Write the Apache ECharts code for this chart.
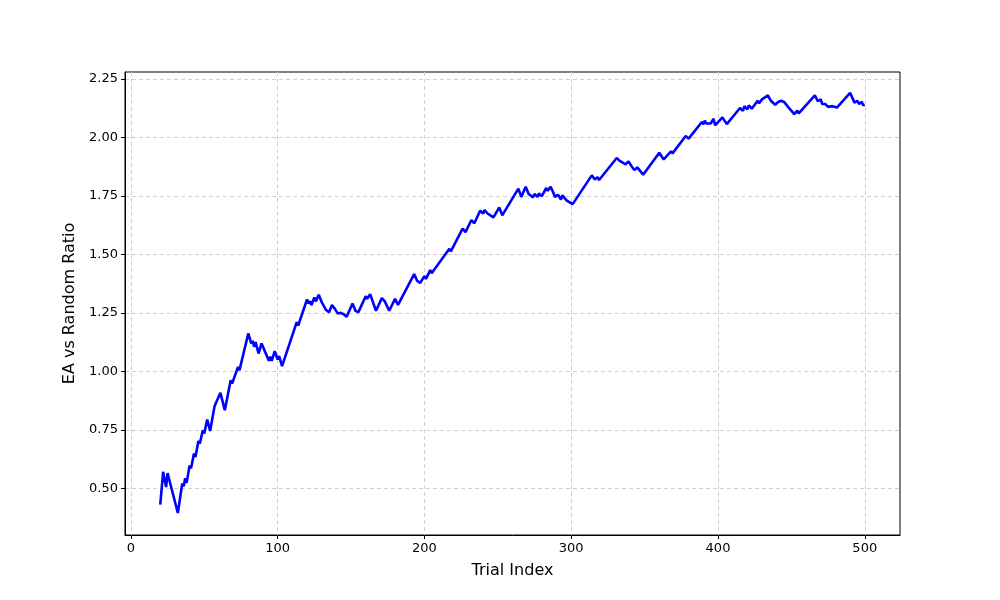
<!DOCTYPE html>
<html>
<head>
<meta charset="utf-8">
<script src="https://cdn.jsdelivr.net/npm/echarts@6/dist/echarts.min.js"></script>
<style>
  html, body { margin: 0; padding: 0; background: #fff; }
  #chart { width: 1000px; height: 600px; }
</style>
</head>
<body>
<div id="chart"></div>
<script>
// trial index (x) and EA / random ratio (y)
const trialIdx = [
  20, 22, 24, 25, 32, 35, 36, 37, 38, 40, 41, 43, 44, 46, 47, 49, 50, 52, 54, 57,
  58, 61, 64, 68, 69, 73, 74, 80, 82, 83, 84, 85, 87, 89, 90, 91, 94, 95, 96, 98,
  100, 101, 103, 113, 114, 120, 121, 122, 123, 125, 126, 128, 130, 131, 133, 134, 135, 137, 139, 140,
  141, 143, 145, 146, 147, 151, 153, 154, 155, 160, 161, 163, 167, 171, 173, 174, 176, 180, 182, 193,
  195, 197, 200, 201, 204, 205, 207, 208, 217, 218, 226, 228, 232, 234, 238, 240, 241, 243, 244, 247,
  251, 253, 264, 266, 269, 271, 274, 275, 277, 278, 280, 283, 284, 286, 287, 289, 291, 293, 294, 297,
  298, 301, 314, 316, 318, 319, 331, 333, 335, 336, 337, 339, 341, 343, 345, 346, 349, 360, 363, 368,
  369, 378, 380, 389, 390, 391, 392, 393, 395, 397, 398, 403, 406, 415, 417, 418, 420, 421, 423, 427,
  428, 430, 431, 434, 436, 439, 441, 442, 443, 444, 445, 448, 449, 452, 454, 455, 466, 468, 470, 471,
  473, 474, 475, 476, 478, 479, 481, 490, 493, 495, 496, 498, 499, 500
];
const ratio = [
  0.430, 0.570, 0.505, 0.565, 0.394, 0.520, 0.508, 0.543, 0.523, 0.597, 0.585, 0.648, 0.634, 0.702, 0.691, 0.748, 0.734, 0.794, 0.745, 0.851,
  0.845, 0.908, 0.834, 0.962, 0.948, 1.019, 1.005, 1.162, 1.119, 1.130, 1.105, 1.125, 1.076, 1.119, 1.105, 1.113, 1.045, 1.062, 1.045, 1.086,
  1.050, 1.065, 1.022, 1.210, 1.196, 1.307, 1.290, 1.300, 1.284, 1.316, 1.299, 1.327, 1.296, 1.304, 1.262, 1.270, 1.253, 1.284, 1.267, 1.275,
  1.247, 1.250, 1.244, 1.248, 1.233, 1.290, 1.259, 1.265, 1.253, 1.321, 1.310, 1.330, 1.259, 1.313, 1.299, 1.305, 1.259, 1.310, 1.284, 1.416,
  1.387, 1.378, 1.407, 1.395, 1.433, 1.419, 1.438, 1.430, 1.524, 1.513, 1.610, 1.595, 1.647, 1.633, 1.687, 1.675, 1.690, 1.675, 1.680, 1.658,
  1.701, 1.667, 1.781, 1.746, 1.789, 1.758, 1.744, 1.758, 1.746, 1.760, 1.749, 1.784, 1.772, 1.789, 1.775, 1.746, 1.755, 1.735, 1.752, 1.730,
  1.727, 1.715, 1.838, 1.821, 1.830, 1.818, 1.912, 1.900, 1.893, 1.898, 1.885, 1.898, 1.878, 1.861, 1.872, 1.865, 1.841, 1.935, 1.906, 1.941,
  1.932, 2.006, 1.995, 2.066, 2.057, 2.072, 2.060, 2.068, 2.060, 2.080, 2.052, 2.086, 2.057, 2.126, 2.114, 2.134, 2.120, 2.137, 2.123, 2.157,
  2.146, 2.163, 2.158, 2.180, 2.157, 2.140, 2.152, 2.145, 2.157, 2.150, 2.152, 2.129, 2.125, 2.100, 2.115, 2.103, 2.180, 2.155, 2.163, 2.143,
  2.143, 2.138, 2.131, 2.138, 2.134, 2.126, 2.128, 2.191, 2.149, 2.157, 2.143, 2.152, 2.137, 2.140
];
const xTicks = [0, 100, 200, 300, 400, 500];
const yTicks = [0.5, 0.75, 1.0, 1.25, 1.5, 1.75, 2.0, 2.25];

const chart = echarts.init(document.getElementById('chart'));
const font = 'DejaVu Sans';
const option = {
  animation: false,
  grid: {
    left: 125, right: 100, top: 72, bottom: 65,
    show: true, borderColor: '#000', borderWidth: 1, backgroundColor: 'transparent'
  },
  xAxis: {
    type: 'value',
    min: -4, max: 524,
    name: 'Trial Index',
    nameLocation: 'middle',
    nameGap: 28,
    nameTextStyle: { fontFamily: font, fontSize: 16, color: '#000' },
    axisLine: { show: true, onZero: false, lineStyle: { color: '#000', width: 1 } },
    axisTick: { show: true, length: 4, lineStyle: { color: '#000' }, customValues: xTicks },
    axisLabel: { fontFamily: font, fontSize: 13, color: '#000', margin: 7, customValues: xTicks },
    splitLine: { show: true, lineStyle: { color: '#cfcfcf', type: [4, 3], width: 1 } }
  },
  yAxis: {
    type: 'value',
    min: 0.30, max: 2.28,
    name: 'EA vs Random Ratio',
    nameLocation: 'middle',
    nameGap: 46,
    nameTextStyle: { fontFamily: font, fontSize: 16, color: '#000' },
    axisLine: { show: true, onZero: false, lineStyle: { color: '#000', width: 1 } },
    axisTick: { show: true, length: 4, lineStyle: { color: '#000' }, customValues: yTicks },
    axisLabel: {
      fontFamily: font, fontSize: 13, color: '#000', margin: 7, customValues: yTicks,
      formatter: (v) => v.toFixed(2)
    },
    splitLine: { show: true, lineStyle: { color: '#cfcfcf', type: [4, 3], width: 1 } }
  },
  series: [{
    type: 'line',
    data: trialIdx.map((x, i) => [x, ratio[i]]),
    showSymbol: false,
    lineStyle: { color: '#0000ff', width: 2.6 },
    itemStyle: { color: '#0000ff' }
  }]
};
chart.setOption(option);
</script>
</body>
</html>
